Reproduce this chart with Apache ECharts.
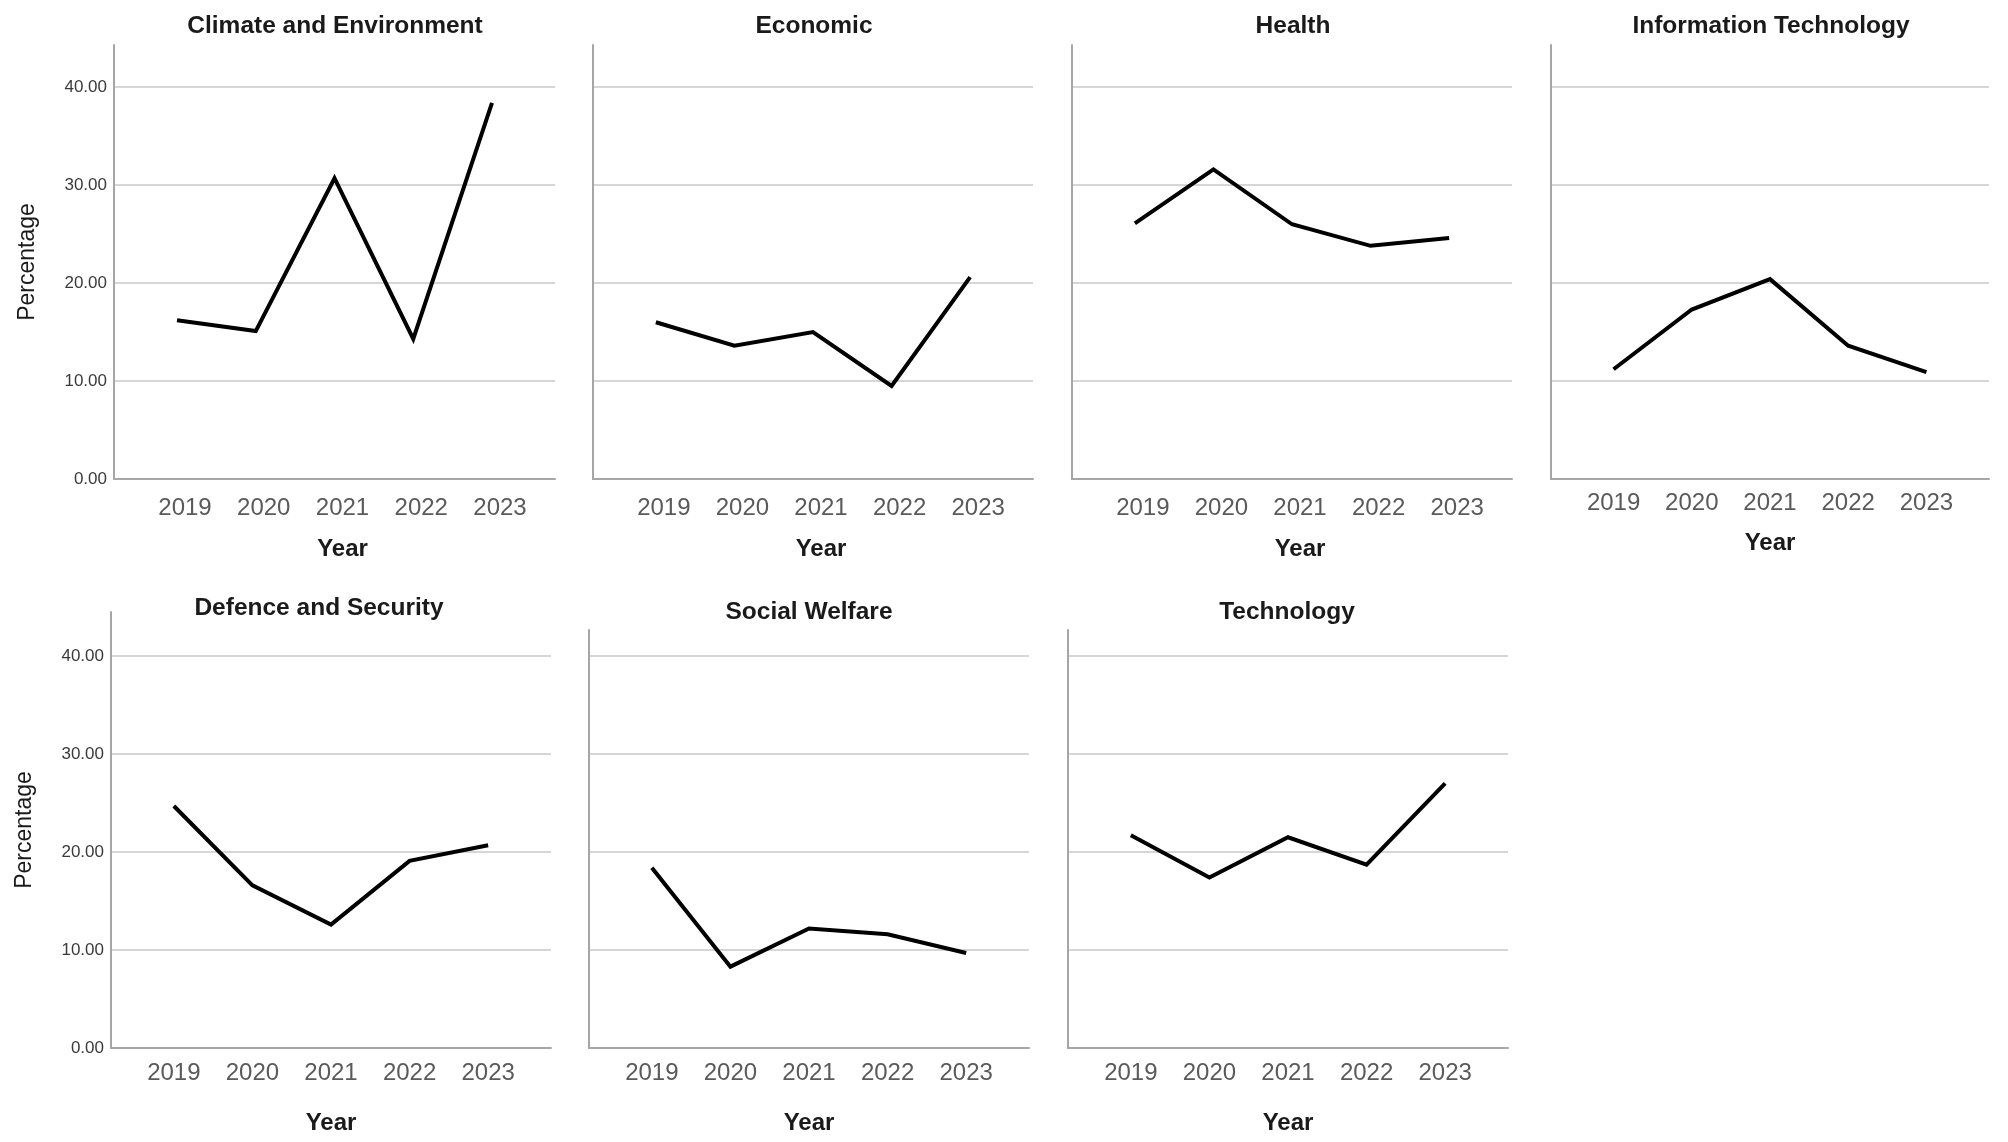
<!DOCTYPE html>
<html>
<head>
<meta charset="utf-8">
<script src="https://cdn.jsdelivr.net/npm/echarts@6/dist/echarts.min.js"></script>
<style>
html,body{margin:0;padding:0;background:#fff;}
#chart{width:2008px;height:1142px;}
</style>
</head>
<body>
<div id="chart"></div>
<script>
// ---- data ----
const years = [2019, 2020, 2021, 2022, 2023];
const yTicks = [0, 10, 20, 30, 40];
const panelTitles = ['Climate and Environment', 'Economic', 'Health', 'Information Technology',
                     'Defence and Security', 'Social Welfare', 'Technology'];
const climate       = [16.2, 15.1, 30.7, 14.3, 38.4];
const economic      = [16.0, 13.6, 15.0, 9.5, 20.6];
const health        = [26.1, 31.6, 26.0, 23.8, 24.6];
const infoTech      = [11.2, 17.3, 20.4, 13.6, 10.9];
const defence       = [24.7, 16.6, 12.6, 19.1, 20.7];
const socialWelfare = [18.4, 8.3, 12.2, 11.6, 9.7];
const technology    = [21.7, 17.4, 21.5, 18.7, 27.0];
const seriesValues = [climate, economic, health, infoTech, defence, socialWelfare, technology];

// ---- layout (positions / styles only) ----
const FONT = '"Liberation Sans", Arial, sans-serif';
const layout = [
  {left:114, top:45,  width:441, height:434, yMax:44.3, titleX:330,  titleY:9,   yLabels:true,  labelMargin:17, nameGap:58, shift:16},
  {left:593, top:45,  width:440, height:434, yMax:44.3, titleX:809,  titleY:9,   yLabels:false, labelMargin:17, nameGap:58, shift:16},
  {left:1072,top:45,  width:440, height:434, yMax:44.3, titleX:1288, titleY:9,   yLabels:false, labelMargin:17, nameGap:58, shift:16},
  {left:1551,top:45,  width:438, height:434, yMax:44.3, titleX:1766, titleY:9,   yLabels:false, labelMargin:12, nameGap:52, shift:0},
  {left:111, top:612, width:440, height:436, yMax:44.5, titleX:314,  titleY:591, yLabels:true,  labelMargin:13, nameGap:63, shift:0},
  {left:589, top:630, width:440, height:418, yMax:42.65,titleX:804,  titleY:595, yLabels:false, labelMargin:13, nameGap:63, shift:0},
  {left:1068,top:630, width:440, height:418, yMax:42.65,titleX:1282, titleY:595, yLabels:false, labelMargin:13, nameGap:63, shift:0}
];

const option = {
  backgroundColor:'#ffffff',
  animation:false,
  title:[], grid:[], xAxis:[], yAxis:[], series:[]
};

layout.forEach((L, i) => {
  option.title.push({
    text: panelTitles[i], left: L.titleX, top: L.titleY, textAlign:'center',
    textStyle:{fontFamily:FONT, fontSize:24.5, fontWeight:'bold', color:'#1a1a1a'}
  });
  option.grid.push({left:L.left, top:L.top, width:L.width, height:L.height, containLabel:false});
  option.xAxis.push({
    type:'value', gridIndex:i, min:2018.2, max:2023.8,
    name:'Year', nameLocation:'middle', nameGap:L.nameGap,
    nameTextStyle:{fontFamily:FONT, fontSize:24, fontWeight:'bold', color:'#1a1a1a', padding:[0,0,0,L.shift]},
    axisLine:{show:true, onZero:false, lineStyle:{color:'#a6a6a6', width:2}},
    axisTick:{show:false, customValues:years},
    splitLine:{show:false},
    axisLabel:{customValues:years, margin:L.labelMargin, fontFamily:FONT, fontSize:24, color:'#5a5a5a',
               padding:[0,0,0,L.shift], formatter: v => String(v)}
  });
  option.yAxis.push({
    type:'value', gridIndex:i, min:0, max:L.yMax,
    name: L.yLabels ? 'Percentage' : '', nameLocation:'middle', nameRotate:90, nameGap:75,
    nameTextStyle:{fontFamily:FONT, fontSize:23, color:'#1a1a1a'},
    axisLine:{show:true, lineStyle:{color:'#a6a6a6', width:2}},
    axisTick:{show:false, customValues:yTicks},
    splitLine:{show:true, lineStyle:{color:'#d6d6d6', width:2}},
    axisLabel:{show:L.yLabels, customValues:yTicks, margin:7, fontFamily:FONT, fontSize:17, color:'#3a3a3a',
               formatter: v => v.toFixed(2)}
  });
  option.series.push({
    type:'line', xAxisIndex:i, yAxisIndex:i, symbol:'none', silent:true,
    lineStyle:{color:'#000', width:4, join:'miter'},
    data: years.map((y, k) => [y, seriesValues[i][k]])
  });
});

const chart = echarts.init(document.getElementById('chart'));
chart.setOption(option);
</script>
</body>
</html>
